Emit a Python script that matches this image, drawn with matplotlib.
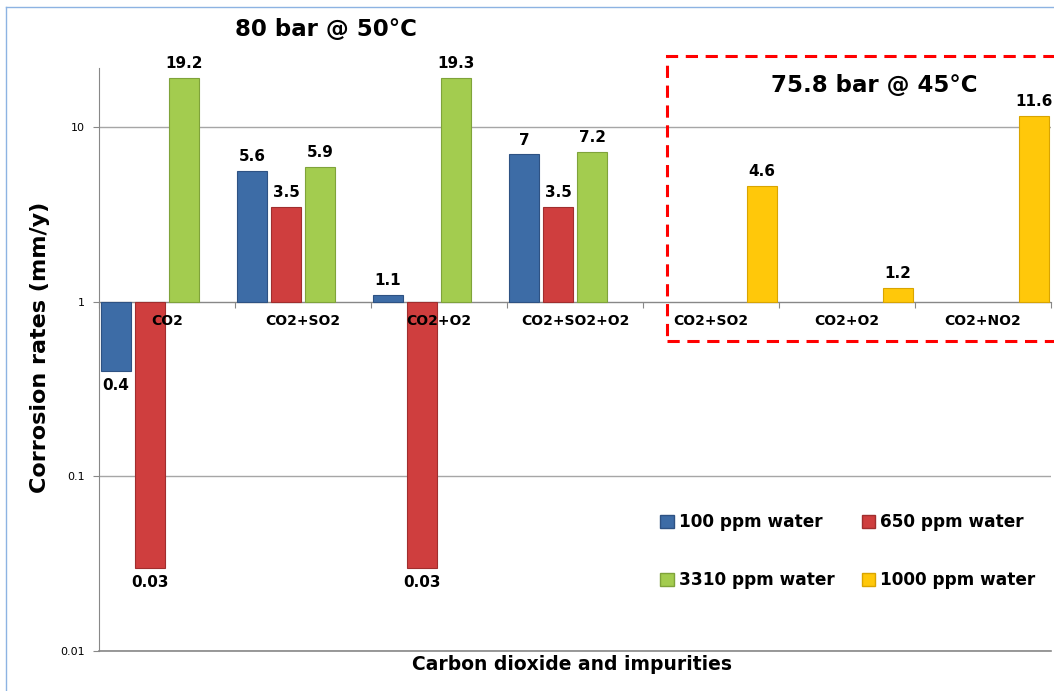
import matplotlib
matplotlib.use("Agg")
import matplotlib.pyplot as plt
import numpy as np
from matplotlib.patches import Patch, Rectangle
from matplotlib.lines import Line2D

# data
categories = ["CO2", "CO2+SO2", "CO2+O2", "CO2+SO2+O2", "CO2+SO2", "CO2+O2", "CO2+NO2"]
series_names = ["100 ppm water", "650 ppm water", "3310 ppm water", "1000 ppm water"]
w100 = [0.4, 5.6, 1.1, 7, np.nan, np.nan, np.nan]
w650 = [0.03, 3.5, 0.03, 3.5, np.nan, np.nan, np.nan]
w3310 = [19.2, 5.9, 19.3, 7.2, np.nan, np.nan, np.nan]
w1000 = [np.nan, np.nan, np.nan, np.nan, 4.6, 1.2, 11.6]
value_labels = [["0.4", "5.6", "1.1", "7"],
                ["0.03", "3.5", "0.03", "3.5"],
                ["19.2", "5.9", "19.3", "7.2"],
                ["4.6", "1.2", "11.6"]]
y_ticks = [0.01, 0.1, 1, 10]
y_ticklabels = ["0.01", "0.1", "1", "10"]

colors = ["#3D6CA6", "#CF3E3E", "#A3CC4F", "#FFC80A"]
edges = ["#2E5283", "#A02E2E", "#7FA33A", "#D9A400"]

plt.rcParams['font.family'] = ['DejaVu Sans']

W, H = 1054, 691
fig = plt.figure(figsize=(W / 100, H / 100), dpi=100)
ax = fig.add_axes([99 / W, 1 - 651 / H, (1051 - 99) / W, (651 - 68) / H])

x = np.arange(len(categories))
slot = 0.25
bw = 0.225
all_series = [w100, w650, w3310, w1000]
for k, vals in enumerate(all_series):
    vals = np.array(vals, dtype=float)
    xs = x + (k - 1.5) * slot
    m = ~np.isnan(vals)
    ax.bar(xs[m], vals[m] - 1, bottom=1, width=bw, color=colors[k],
           edgecolor=edges[k], linewidth=0.8, zorder=3)
    for xi, v, lab in zip(xs[m], vals[m], value_labels[k]):
        if v >= 1:
            ax.annotate(lab, (xi, v), xytext=(0, 5), textcoords='offset points',
                        ha='center', va='bottom', fontsize=11, fontweight='bold')
        else:
            ax.annotate(lab, (xi, v), xytext=(0, -5), textcoords='offset points',
                        ha='center', va='top', fontsize=11, fontweight='bold')

ax.set_yscale('log')
ax.set_ylim(0.01, 21.9)
ax.set_xlim(-0.5, len(categories) - 0.5)
ax.set_yticks(y_ticks)
ax.set_yticklabels(y_ticklabels)
ax.yaxis.set_minor_locator(matplotlib.ticker.NullLocator())
ax.tick_params(axis='y', labelsize=8, length=4, color='#888888', pad=6)
ax.yaxis.grid(True, color='#A6A6A6', linewidth=1, zorder=0)
ax.set_axisbelow(True)

# x axis crosses at 1
ax.spines['bottom'].set_position(('data', 1))
ax.spines['bottom'].set_color('#888888')
ax.spines['left'].set_color('#888888')
ax.spines['top'].set_visible(False)
ax.spines['right'].set_visible(False)
ax.set_xticks(np.arange(-0.5, len(categories), 1.0))
ax.set_xticklabels([])
ax.tick_params(axis='x', length=4, color='#888888')
ax.axhline(0.01, color='#888888', linewidth=1.2, zorder=2, clip_on=False)

for xi, name in zip(x, categories):
    ax.annotate(name, (xi, 1), xytext=(0, -9), textcoords='offset points',
                ha='center', va='top', fontsize=10, fontweight='bold')

fig.text(40 / W, 1 - 347 / H, "Corrosion rates (mm/y)", rotation=90,
         ha='center', va='center', fontsize=16, fontweight='bold')
fig.text(572 / W, 1 - 664 / H, "Carbon dioxide and impurities",
         ha='center', va='center', fontsize=13.5, fontweight='bold')
fig.text(326 / W, 1 - 30 / H, "80 bar @ 50°C", ha='center', va='center',
         fontsize=16.5, fontweight='bold')
fig.text(874 / W, 1 - 86 / H, "75.8 bar @ 45°C", ha='center', va='center',
         fontsize=16.5, fontweight='bold')

# red dashed box around the second test series
fig.patches.append(Rectangle((667 / W, 1 - 341 / H), 420 / W, (341 - 56) / H,
                             transform=fig.transFigure, fill=False,
                             edgecolor='#FF0000', linewidth=2.2,
                             linestyle=(0, (4, 2.5)), zorder=5))

# outer chart frame (left and top edges)
fig.lines.append(Line2D([6 / W, 6 / W], [0, 1 - 7 / H], transform=fig.transFigure,
                        color='#8DB3E2', linewidth=1))
fig.lines.append(Line2D([6 / W, 1], [1 - 7 / H, 1 - 7 / H], transform=fig.transFigure,
                        color='#8DB3E2', linewidth=1))

# legend fills column-wise, so reorder to read row-wise like the original
order = [0, 2, 1, 3]
handles = [Patch(facecolor=colors[i], edgecolor=edges[i]) for i in order]
labels = [series_names[i] for i in order]
fig.legend(handles, labels, ncol=2, loc='upper left',
           bbox_to_anchor=(645 / W, 1 - 498 / H), frameon=False,
           prop={'size': 12.2, 'weight': 'bold'}, handlelength=0.8,
           handleheight=0.8, handletextpad=0.3, labelspacing=2.35,
           columnspacing=1.6)

fig.savefig("out.png", dpi=100)
